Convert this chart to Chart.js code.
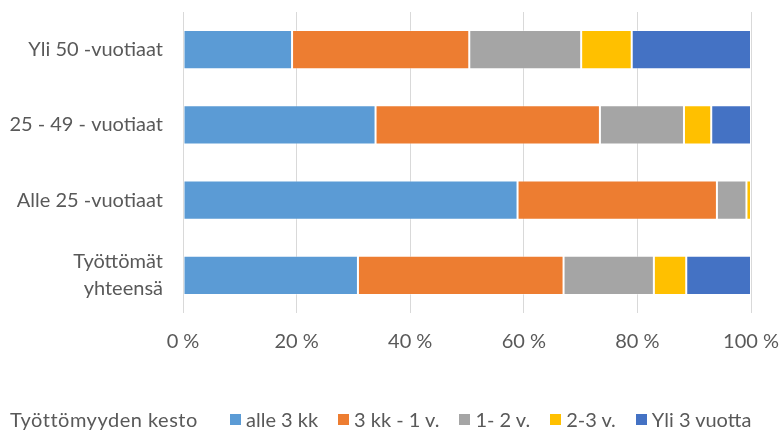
<!DOCTYPE html>
<html lang="fi">
<head>
<meta charset="utf-8">
<script src="https://cdn.jsdelivr.net/npm/chart.js@4"></script>
<style>
  html, body { margin: 0; padding: 0; background: #fff; }
  #wrap { position: relative; width: 782px; height: 434px; font-family: Lato, sans-serif; }
  #leyenda { position: absolute; left: 10px; top: 407px; display: flex; align-items: center; font-size: 20px; color: #595959; white-space: nowrap; }
  #leyenda .titulo { width: 220px; letter-spacing: 0.5px; }
  #leyenda .item { display: flex; align-items: center; margin-right: 20px; }
  #leyenda .caja { width: 11px; height: 11px; margin-right: 5px; }
</style>
</head>
<body>
<div id="wrap">
  <canvas id="grafico" width="782" height="434"></canvas>
  <div id="leyenda"></div>
</div>
<script>
// datos (en %)
const categorias = ['Yli 50 -vuotiaat', '25 - 49 - vuotiaat', 'Alle 25 -vuotiaat', ['Työttömät', 'yhteensä']];
const series = ['alle 3 kk', '3 kk - 1 v.', '1- 2 v.', '2-3 v.', 'Yli 3 vuotta'];
const alle3kk = [19.2, 33.9, 58.9, 30.8];
const kk3_1v = [31.2, 39.5, 35.1, 36.2];
const v1_2 = [19.7, 14.8, 5.2, 15.9];
const v2_3 = [8.9, 4.8, 0.8, 5.7];
const yli3v = [21.0, 7.0, 0.0, 11.4];
const ticksX = [0, 20, 40, 60, 80, 100];
const tituloLeyenda = 'Työttömyyden kesto';
const colores = ['#5B9BD5', '#ED7D31', '#A5A5A5', '#FFC000', '#4472C4'];

const valores = [alle3kk, kk3_1v, v1_2, v2_3, yli3v];
const gris = '#595959';

// leyenda en html
let html = `<span class="titulo">${tituloLeyenda}</span>`;
series.forEach((s, i) => {
  html += `<span class="item"><span class="caja" style="background:${colores[i]}"></span>${s}</span>`;
});
document.getElementById('leyenda').innerHTML = html;

const ctx = document.getElementById('grafico').getContext('2d');
new Chart(ctx, {
  type: 'bar',
  data: {
    labels: categorias,
    datasets: series.map((s, i) => ({
      label: s,
      data: valores[i],
      backgroundColor: colores[i],
      borderColor: 'rgba(255,255,255,0.35)',
      borderWidth: 1,
      borderSkipped: false,
      categoryPercentage: 1,
      barPercentage: 0.52
    }))
  },
  options: {
    indexAxis: 'y',
    responsive: false,
    animation: false,
    layout: { padding: { top: 12, right: 31, bottom: 80, left: 0 } },
    plugins: {
      legend: { display: false },
      tooltip: { enabled: false }
    },
    scales: {
      x: {
        stacked: true,
        min: 0,
        max: 100,
        afterBuildTicks: axis => { axis.ticks = ticksX.map(v => ({ value: v })); },
        afterFit: axis => {
          axis.height = 41;
          axis.paddingLeft = 0;
          axis.paddingRight = 0;
        },
        grid: { color: '#d9d9d9', lineWidth: 1, drawTicks: false },
        border: { display: false },
        ticks: {
          padding: 17,
          color: gris,
          font: { family: 'Lato', size: 20, lineHeight: 1.2 },
          callback: v => v + ' %'
        }
      },
      y: {
        stacked: true,
        afterFit: axis => {
          axis.width = 183;
          axis.paddingTop = 0;
          axis.paddingBottom = 0;
        },
        grid: { display: false, drawTicks: false },
        border: { display: false },
        ticks: {
          padding: 20,
          color: gris,
          font: { family: 'Lato', size: 20, lineHeight: 1.35 }
        }
      }
    }
  }
});
</script>
</body>
</html>
